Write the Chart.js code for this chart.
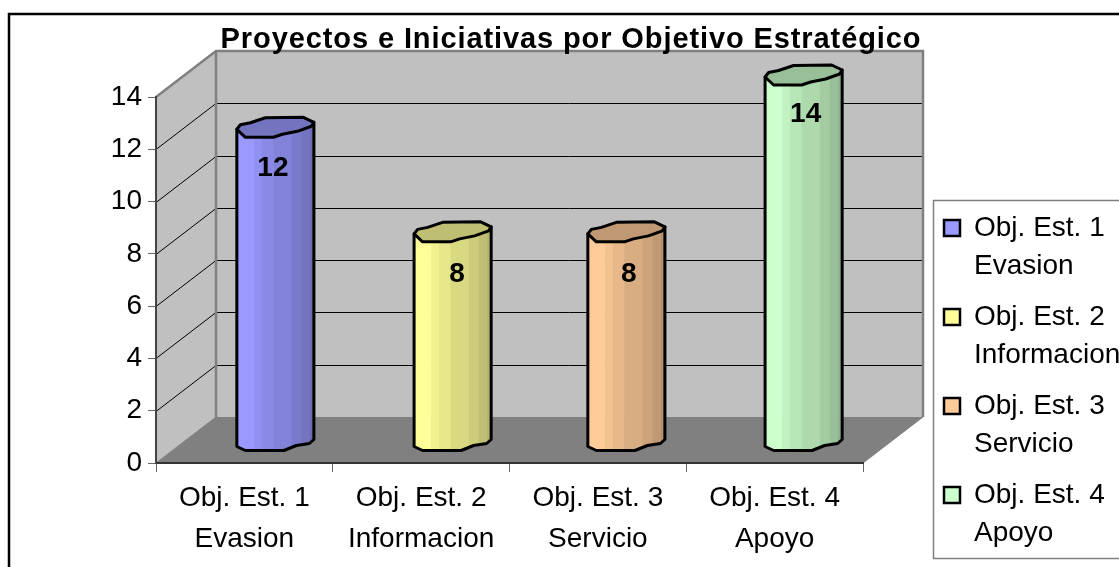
<!DOCTYPE html>
<html>
<head>
<meta charset="utf-8">
<title>Proyectos e Iniciativas por Objetivo Estratégico</title>
<script src="https://cdn.jsdelivr.net/npm/chart.js@4/dist/chart.umd.min.js"></script>
<style>
    html, body { margin: 0; padding: 0; background: #fff; overflow: hidden; }
    #box { position: relative; width: 1119px; height: 567px; }
</style>
</head>
<body>
<div id="box"><canvas id="chart"></canvas></div>
<script>
const categories = [
    ['Obj. Est. 1', 'Evasion'],
    ['Obj. Est. 2', 'Informacion'],
    ['Obj. Est. 3', 'Servicio'],
    ['Obj. Est. 4', 'Apoyo']
];
const values = [12, 8, 8, 14];
const barColors = [[153, 153, 255], [255, 255, 153], [255, 204, 153], [204, 255, 204]];

const chartTitle = 'Proyectos e Iniciativas por Objetivo Estratégico';
const fontName = '"Liberation Sans", Arial, sans-serif';

// how far the back wall sits behind the front plane
const depthX = 60;
const depthY = 46;

// small per bar corrections, the original rounds its bars unevenly
const barNudge = [1, 1.5, -1.5, -1];
const labelNudge = [[-2.5, 1], [4.5, 2], [2.5, 2], [2, -1]];

function rgb(c, k) {
    return `rgb(${Math.round(c[0] * k)},${Math.round(c[1] * k)},${Math.round(c[2] * k)})`;
}

// outline of a cylinder, relative to its centre and for half width 38.5
const capShape = [[-38.5, 3], [-35, -1.5], [-25, -3.5], [-10, -8.5], [28, -9], [38.5, -4],
    [36, 0], [22, 5], [7, 8], [-2, 11], [-30, 11]];
const baseShape = [[38.5, 0], [34, 4], [21, 6], [8.5, 11], [-30, 11], [-38.5, 7]];
const bandEdges = [0, 0.224, 0.323, 0.474, 0.711, 0.84, 0.948, 1];
const bandShades = [1, 0.95, 0.9, 0.85, 0.8, 0.75, 0.7];

function tracePoints(ctx, pts, cx, cy, k, start) {
    pts.forEach((p, i) => {
        const x = cx + p[0] * k;
        const y = cy + p[1] * k;
        if (i === 0 && start) ctx.moveTo(x, y);
        else ctx.lineTo(x, y);
    });
}

const walls = {
    id: 'walls',
    beforeDraw(chart) {
        const ctx = chart.ctx;
        const { left, right, top, bottom } = chart.chartArea;
        ctx.save();

        // outer frame, runs off the picture on the right and at the bottom
        ctx.strokeStyle = '#000';
        ctx.lineWidth = 2.5;
        ctx.strokeRect(9, 14, 1130, 570);

        // legend frame
        ctx.strokeStyle = '#808080';
        ctx.lineWidth = 1.5;
        ctx.strokeRect(933.5, 200.5, 200, 358);

        ctx.fillStyle = '#c0c0c0';
        ctx.fillRect(left + depthX, top - depthY, right - left, bottom - top);
        ctx.beginPath();
        ctx.moveTo(left, top);
        ctx.lineTo(left + depthX, top - depthY);
        ctx.lineTo(left + depthX, bottom - depthY);
        ctx.lineTo(left, bottom);
        ctx.closePath();
        ctx.fill();

        ctx.fillStyle = '#808080';
        ctx.beginPath();
        ctx.moveTo(left, bottom);
        ctx.lineTo(right, bottom);
        ctx.lineTo(right + depthX, bottom - depthY);
        ctx.lineTo(left + depthX, bottom - depthY);
        ctx.closePath();
        ctx.fill();

        // gridlines run along the side wall and the back wall
        ctx.strokeStyle = '#000';
        ctx.lineWidth = 1;
        chart.scales.y.ticks.forEach(t => {
            if (t.value === 0 || t.value === chart.scales.y.max) return;
            const y = Math.round(chart.scales.y.getPixelForValue(t.value)) + 0.5;
            ctx.beginPath();
            ctx.moveTo(left, y);
            ctx.lineTo(left + depthX, y - depthY);
            ctx.lineTo(right + depthX, y - depthY);
            ctx.stroke();
        });

        ctx.strokeStyle = '#808080';
        ctx.lineWidth = 2.5;
        ctx.beginPath();
        ctx.moveTo(left, top);
        ctx.lineTo(left + depthX, top - depthY);
        ctx.lineTo(right + depthX, top - depthY);
        ctx.lineTo(right + depthX, bottom - depthY);
        ctx.moveTo(left + depthX, top - depthY);
        ctx.lineTo(left + depthX, bottom - depthY);
        ctx.stroke();
        ctx.lineWidth = 1;
        ctx.beginPath();
        ctx.moveTo(left, bottom);
        ctx.lineTo(left + depthX, bottom - depthY);
        ctx.moveTo(right, bottom);
        ctx.lineTo(right + depthX, bottom - depthY);
        ctx.stroke();
        ctx.restore();
    }
};

// the bars are drawn as faceted cylinders from the bar elements
const cylinders = {
    id: 'cylinders',
    afterDatasetsDraw(chart) {
        const ctx = chart.ctx;
        chart.getDatasetMeta(0).data.forEach((bar, i) => {
            const cx = bar.x + depthX / 2 + barNudge[i];
            const half = bar.width / 2;
            const k = half / 38.5;
            const topY = bar.y - depthY / 2;
            const baseY = bar.base - depthY / 2;
            const color = barColors[i];

            const body = () => {
                ctx.beginPath();
                ctx.moveTo(cx - half, topY + capShape[0][1]);
                ctx.lineTo(cx + half, topY + capShape[5][1]);
                tracePoints(ctx, baseShape, cx, baseY, k, false);
                ctx.closePath();
            };
            const cap = () => {
                ctx.beginPath();
                tracePoints(ctx, capShape, cx, topY, k, true);
                ctx.closePath();
            };

            ctx.save();
            ctx.lineJoin = 'round';
            ctx.save();
            body();
            ctx.clip();
            bandShades.forEach((s, b) => {
                ctx.fillStyle = rgb(color, s);
                const x0 = cx - half + bandEdges[b] * bar.width;
                const x1 = cx - half + bandEdges[b + 1] * bar.width;
                ctx.fillRect(x0, topY - 20, x1 - x0 + 0.5, baseY - topY + 50);
            });
            ctx.restore();

            ctx.strokeStyle = '#000';
            ctx.lineWidth = 3;
            body();
            ctx.stroke();
            cap();
            ctx.fillStyle = rgb(color, 0.75);
            ctx.fill();
            ctx.stroke();

            // value label
            ctx.fillStyle = '#000';
            ctx.font = 'bold 28px ' + fontName;
            ctx.textAlign = 'center';
            ctx.textBaseline = 'middle';
            ctx.fillText(values[i], cx + labelNudge[i][0], topY + 41 + labelNudge[i][1]);
            ctx.restore();
        });
    }
};

// legend sits in a fixed spot, the title is centred over the back wall side
const placement = {
    id: 'placement',
    beforeLayout(chart) {
        const legend = chart.legend;
        if (legend.fitPatched) return;
        const fit = legend.fit;
        legend.fit = function () {
            fit.call(this);
            this.width = 256;
        };
        legend.fitPatched = true;

        // the title in the original is spaced wider than the font
        const title = chart.titleBlock;
        const drawTitle = title.draw;
        title.draw = function () {
            this.ctx.save();
            this.ctx.letterSpacing = '0.9px';
            drawTitle.call(this);
            this.ctx.restore();
        };
    },
    afterLayout(chart) {
        const legend = chart.legend;
        legend.left = 931;
        legend.right = 1119;
        legend.top = 201;
        legend.bottom = 567;
        chart.titleBlock.left += 11.5;
        chart.titleBlock.right += 11.5;
    }
};

const chart = document.querySelector('#chart').getContext('2d');

new Chart(chart, {
    type: 'bar',
    data: {
        labels: categories,
        datasets: [
            {
                data: values,
                backgroundColor: 'rgba(0,0,0,0)',
                barPercentage: 0.436,
                categoryPercentage: 1
            }
        ]
    },
    options: {
        responsive: true,
        maintainAspectRatio: false,
        animation: false,
        layout: { padding: 0 },
        scales: {
            x: {
                afterFit: s => { s.height = 104; },
                grid: { drawOnChartArea: false, tickLength: 9, tickColor: '#666', offset: true },
                border: { color: '#333', width: 2 },
                ticks: {
                    color: '#000',
                    maxRotation: 0,
                    padding: 6,
                    font: { family: fontName, size: 28, lineHeight: 1.46 }
                }
            },
            y: {
                min: 0,
                max: 14,
                afterFit: s => { s.width = 156; },
                grid: { drawOnChartArea: false, tickLength: 8, tickColor: '#666' },
                border: { color: '#444', width: 2 },
                ticks: {
                    stepSize: 2,
                    color: '#000',
                    padding: 6,
                    font: { family: fontName, size: 28 }
                }
            }
        },
        plugins: {
            title: {
                display: true,
                text: chartTitle,
                color: '#000',
                font: { family: fontName, size: 29, weight: 'bold', lineHeight: 1.2 },
                padding: { top: 22.5, bottom: 39.7 }
            },
            tooltip: { enabled: false },
            legend: {
                position: 'right',
                align: 'start',
                labels: {
                    boxWidth: 16,
                    boxHeight: 16,
                    padding: 13,
                    color: '#000',
                    font: { family: fontName, size: 28, lineHeight: 38 / 28 },
                    generateLabels: () => categories.map((c, i) => ({
                        text: c,
                        fillStyle: rgb(barColors[i], 1),
                        strokeStyle: '#000',
                        lineWidth: 2.5,
                        index: i
                    }))
                }
            }
        }
    },
    plugins: [walls, cylinders, placement]
});
</script>
</body>
</html>
